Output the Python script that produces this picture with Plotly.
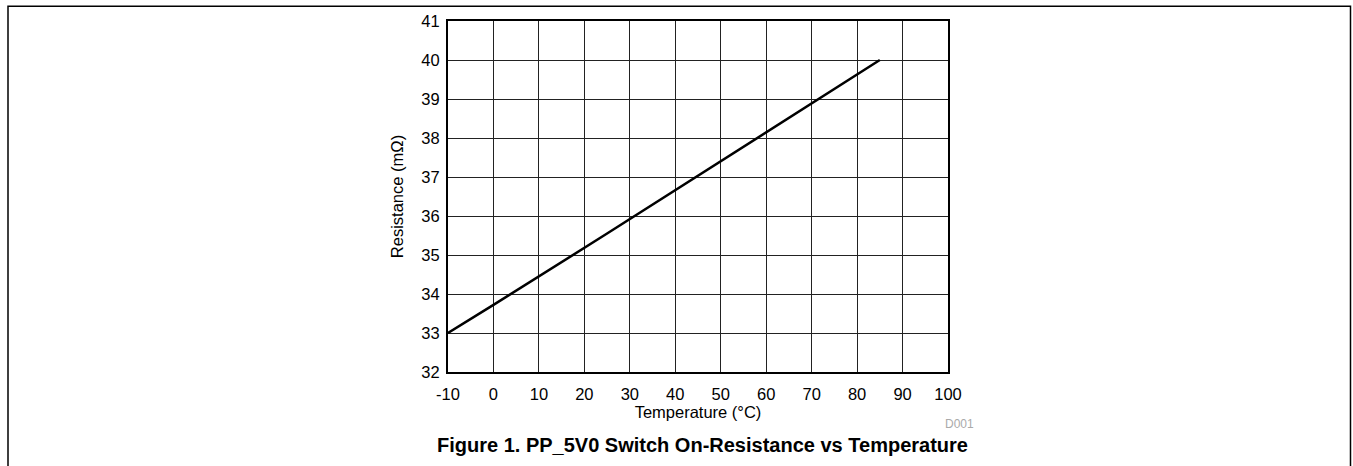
import plotly.graph_objects as go

# Data
temperature_c = [-10, 0, 25, 50, 85]
resistance_mohm = [33.0, 33.72, 35.55, 37.4, 40.0]

x_ticks = [-10, 0, 10, 20, 30, 40, 50, 60, 70, 80, 90, 100]
y_ticks = [32, 33, 34, 35, 36, 37, 38, 39, 40, 41]

W, H = 1353, 466
L, R, T, B = 448, 948, 18, 372  # plot area in pixels


def px_to_paper_x(px):
    return (px - L) / (R - L)


def px_to_paper_y(py):
    return (B - py) / (B - T)


FONT = "Liberation Sans, Arial, sans-serif"
TICK = 16.5

fig = go.Figure()
fig.add_trace(go.Scatter(
    x=temperature_c, y=resistance_mohm, mode="lines",
    line=dict(color="black", width=2.5), showlegend=False,
))

fig.update_layout(
    width=W, height=H,
    margin=dict(l=L, r=W - R, t=T, b=H - B, pad=0),
    paper_bgcolor="white", plot_bgcolor="white",
    font=dict(family=FONT, size=TICK, color="black"),
    xaxis=dict(
        range=[-10, 100], tickvals=x_ticks, ticktext=[str(v) for v in x_ticks],
        showgrid=True, gridcolor="#222", gridwidth=1,
        showline=True, linecolor="black", linewidth=2, mirror=True,
        ticks="", ticklen=0, zeroline=False, ticklabelstandoff=6,
        title=dict(text="Temperature (°C)", standoff=2, font=dict(size=TICK)),
        tickfont=dict(size=TICK),
    ),
    yaxis=dict(
        range=[32, 41], tickvals=y_ticks, ticktext=[str(v) for v in y_ticks],
        showgrid=True, gridcolor="#222", gridwidth=1,
        showline=True, linecolor="black", linewidth=2, mirror=True,
        ticks="", ticklen=0, zeroline=False, ticklabelstandoff=3,
        title=dict(text="Resistance (mΩ)", standoff=14, font=dict(size=TICK)),
        tickfont=dict(size=TICK),
    ),
    shapes=[dict(
        type="rect", xref="paper", yref="paper",
        x0=px_to_paper_x(8), x1=px_to_paper_x(1350.5),
        y0=px_to_paper_y(490), y1=px_to_paper_y(3),
        line=dict(color="black", width=1.5), fillcolor="rgba(0,0,0,0)",
        layer="below",
    )],
    annotations=[
        dict(text="<b>Figure 1. PP_5V0 Switch On-Resistance vs Temperature</b>",
             xref="paper", yref="paper", x=px_to_paper_x(702), y=px_to_paper_y(446),
             xanchor="center", yanchor="middle", showarrow=False,
             font=dict(family=FONT, size=20, color="black")),
        dict(text="D001", xref="paper", yref="paper",
             x=px_to_paper_x(959), y=px_to_paper_y(424),
             xanchor="center", yanchor="middle", showarrow=False,
             font=dict(family=FONT, size=12, color="#aaaaaa")),
    ],
)

fig.write_html("out.html", config={"displayModeBar": False},
               post_script="document.body.style.margin='0';")
